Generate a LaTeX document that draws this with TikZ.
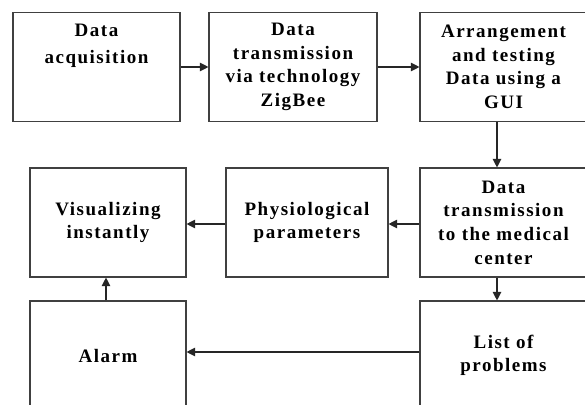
\documentclass[tikz,border=0pt]{standalone}
\usepackage{fontspec}
\setmainfont{Liberation Serif}[LetterSpace=8]
\usetikzlibrary{arrows.meta}
\begin{document}
\begin{tikzpicture}[x=1pt,y=-1pt,
  box/.style={draw=black!75, line width=1.1pt, rectangle, align=center,
    minimum height=109pt, inner sep=0pt,
    font=\fontsize{19}{23.6}\selectfont\bfseries},
  arr/.style={draw=black!85, line width=1.1pt, -{Triangle[length=8.5pt,width=8.5pt]}}]
\useasboundingbox (0,0) rectangle (585,404);
\clip (0,0) rectangle (585,404);
\fill[white] (0,0) rectangle (585,404);
\node[box, minimum width=167pt] (b1) at (96.5,67) {Data\\[3pt]acquisition\\[-2pt]\strut\\[-6pt]\strut};
\node[box, minimum width=168pt] (b2) at (293,67) {Data\\transmission\\via technology\\ZigBee};
\node[box, minimum width=167pt] (b3) at (503.5,67) {Arrangement\\and testing\\Data using a\\GUI};
\node[box, minimum width=167pt] (b4) at (503.5,222.5) {Data\\transmission\\to the medical\\center};
\node[box, minimum width=162pt] (b5) at (307,222.5) {Physiological\\parameters};
\node[box, minimum width=156pt] (b6) at (108,222.5) {Visualizing\\instantly};
\node[box, minimum width=156pt] (b7) at (108,355.5) {Alarm};
\node[box, minimum width=167pt] (b8) at (503.5,355.5) {List of\\problems};
\draw[arr] (b1.east) -- (b2.west);
\draw[arr] (b2.east) -- (b3.west);
\draw[arr] ([xshift=-6.5pt]b3.south) -- ([xshift=-6.5pt]b4.north);
\draw[arr] ([xshift=-6.5pt]b4.south) -- ([xshift=-6.5pt]b8.north);
\draw[arr] ([yshift=-1.5pt]b4.west) -- ([yshift=-1.5pt]b5.east);
\draw[arr] ([yshift=-1.5pt]b5.west) -- ([yshift=-1.5pt]b6.east);
\draw[arr] ([xshift=-2pt]b7.north) -- ([xshift=-2pt]b6.south);
\draw[arr] ([yshift=3.5pt]b8.west) -- ([yshift=3.5pt]b7.east);
\end{tikzpicture}
\end{document}
